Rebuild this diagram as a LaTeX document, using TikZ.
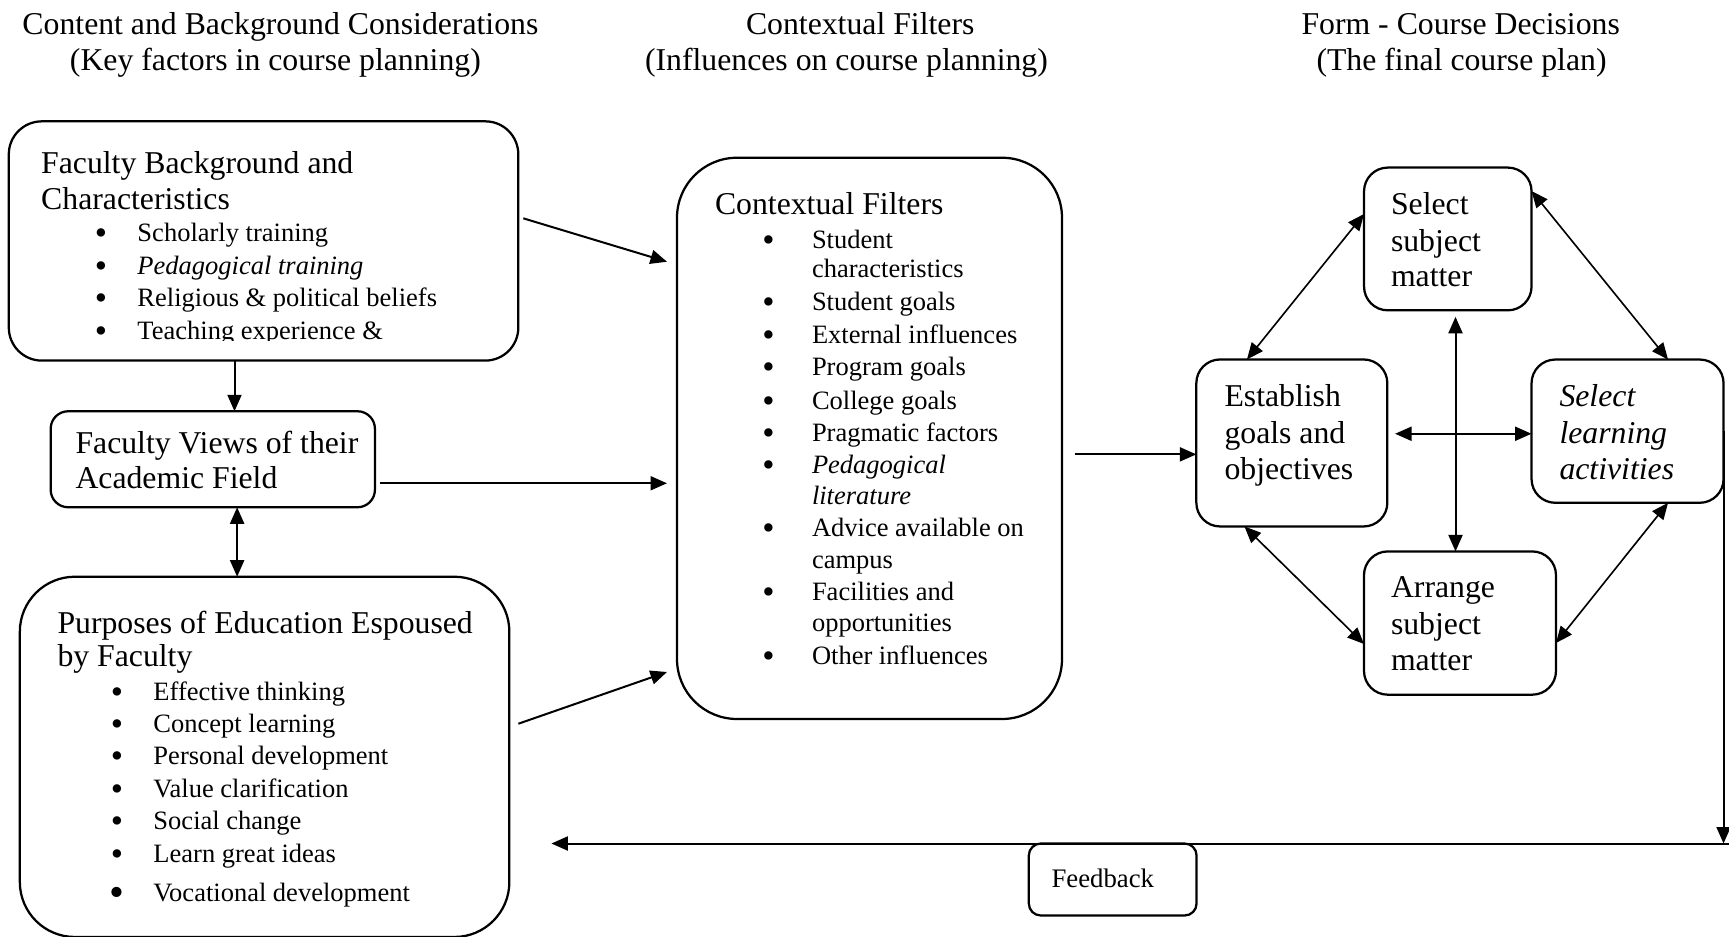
\documentclass[tikz,border=0pt]{standalone}
\usepackage{fontspec}
\setmainfont{Liberation Serif}
\usetikzlibrary{arrows.meta,calc}
\tikzset{
  big/.style={font=\fontsize{12.7}{14.6}\selectfont, inner sep=0pt, anchor=base west},
  sm/.style={font=\fontsize{10.6}{13}\selectfont, inner sep=0pt, anchor=base west},
  bul/.style={font=\fontsize{14}{14}\selectfont, inner sep=0pt, anchor=base, yshift=-1.2pt},
  box/.style={draw, line width=0.9pt, inner sep=0pt, outer sep=0pt},
  tip/.tip={Triangle[length=6.6pt,width=5.6pt]},
  arr/.style={line width=0.8pt, -tip},
  darr/.style={line width=0.8pt, tip-tip},
  tdarr/.style={line width=0.65pt, tip-tip}
}
\newcommand{\myitem}[5]{%
  \node[bul] (#1b) at (#2,#4) {\textbullet};
  \node[sm] (#1) at (#3,#4) {#5};}
\begin{document}
\begin{tikzpicture}[x=0.4pt,y=-0.4pt]
\useasboundingbox (0,0) rectangle (1729,936);

% ---- titles
\node[big] (ta1) at (22,34) {Content and Background Considerations};
\node[big] (ta2) at (69.5,70) {(Key factors in course planning)};
\node[big] (tb1) at (745.5,34) {Contextual Filters};
\node[big] (tb2) at (644.5,70) {(Influences on course planning)};
\node[big] (tc1) at (1301,34) {Form - Course Decisions};
\node[big] (tc2) at (1316,70) {(The final course plan)};

% ---- boxes
\node[box, rounded corners=13.2pt, minimum width=203.8pt, minimum height=95.7pt] (b1) at (263.55,240.95) {};
\node[box, rounded corners=7pt, minimum width=129.7pt, minimum height=38.4pt] (b2) at (212.8,459.25) {};
\node[box, rounded corners=22pt, minimum width=195.8pt, minimum height=144.1pt] (b3) at (264.6,756.85) {};
\node[box, rounded corners=24pt, minimum width=154pt, minimum height=224.5pt] (b4) at (869.5,438.35) {};
\node[box, rounded corners=9.5pt, minimum width=67pt, minimum height=57.1pt] (ssm) at (1447.8,238.95) {};
\node[box, rounded corners=9.5pt, minimum width=76.4pt, minimum height=66.8pt] (ego) at (1291.85,442.95) {};
\node[box, rounded corners=9.5pt, minimum width=76.8pt, minimum height=57.3pt] (sla) at (1627.55,431.15) {};
\node[box, rounded corners=9.5pt, minimum width=76.8pt, minimum height=57.3pt] (asm) at (1460,623.05) {};
\node[box, rounded corners=4.8pt, minimum width=67.1pt, minimum height=28.8pt] (fb) at (1112.7,879.5) {};
\node[inner sep=0pt, anchor=base west, font=\fontsize{10.7}{13}\selectfont] (fbt) at (1051,887) {Feedback};

% ---- box 1 text
\node[big] (h1a) at (40.7,173.5) {Faculty Background and};
\node[big] (h1b) at (40.7,209.5) {Characteristics};
\myitem{i11}{101}{137}{241.5}{Scholarly training}
\myitem{i12}{101}{137}{274}{\textit{Pedagogical training}}
\myitem{i13}{101}{137}{306.5}{Religious \& political beliefs}
\begin{scope}
  \clip (0,300) rectangle (600,340);
  \myitem{i14}{101}{137}{339}{Teaching experience \&}
\end{scope}

% ---- box 2 text
\node[big] (h2a) at (75,453.5) {Faculty Views of their};
\node[big] (h2b) at (75,488) {Academic Field};

% ---- box 3 text
\node[big] (h3a) at (57,633) {Purposes of Education Espoused};
\node[big] (h3b) at (57,666) {by Faculty};
\myitem{i31}{117}{153}{700}{Effective thinking}
\myitem{i32}{117}{153}{732}{Concept learning}
\myitem{i33}{117}{153}{764.5}{Personal development}
\myitem{i34}{117}{153}{797}{Value clarification}
\myitem{i35}{117}{153}{829.5}{Social change}
\myitem{i36}{117}{153}{862}{Learn great ideas}
\node[bul, font=\fontsize{17}{17}\selectfont] (i37b) at (117,903) {\textbullet};
\node[sm] (i37) at (153,901) {Vocational development};

% ---- box 4 text
\node[big] (h4) at (714.5,214.5) {Contextual Filters};
\myitem{i41}{768.5}{811.5}{248}{Student}
\node[sm] (i41c) at (811.5,277.5) {characteristics};
\myitem{i42}{768.5}{811.5}{310.5}{Student goals}
\myitem{i43}{768.5}{811.5}{343.5}{External influences}
\myitem{i44}{768.5}{811.5}{375.5}{Program goals}
\myitem{i45}{768.5}{811.5}{409}{College goals}
\myitem{i46}{768.5}{811.5}{441.5}{Pragmatic factors}
\myitem{i47}{768.5}{811.5}{473.5}{\textit{Pedagogical}}
\node[sm] (i47c) at (811.5,504.5) {\textit{literature}};
\myitem{i48}{768.5}{811.5}{536.5}{Advice available on}
\node[sm] (i48c) at (811.5,568) {campus};
\myitem{i49}{768.5}{811.5}{600}{Facilities and}
\node[sm] (i49c) at (811.5,631) {opportunities};
\myitem{i40}{768.5}{811.5}{664}{Other influences}

% ---- right boxes text
\node[big] (s1) at (1390.5,214.5) {Select};
\node[big] (s2) at (1390.5,251) {subject};
\node[big] (s3) at (1390.5,286) {matter};
\node[big] (e1) at (1224,406) {Establish};
\node[big] (e2) at (1224,443.5) {goals and};
\node[big] (e3) at (1224,479.5) {objectives};
\node[big] (l1) at (1559,406) {\textit{Select}};
\node[big] (l2) at (1559,443.5) {\textit{learning}};
\node[big] (l3) at (1559,479.5) {\textit{activities}};
\node[big] (a1) at (1390.5,597.5) {Arrange};
\node[big] (a2) at (1390.5,634) {subject};
\node[big] (a3) at (1390.5,670) {matter};

% ---- connectors, left part
\draw[arr] ($(b1.north east)+(5,97)$) -- ($(b4.north west)+(-10,104)$);
\draw[arr] ($(b2.east)+(5.5,24)$) coordinate (s2a) -- ($(s2a -| b4.west)+(-10,0)$);
\draw[arr] ($(b3.north east)+(9,147)$) -- ($(b4.south west)+(-10,-47)$);
\draw[arr] ($(b1.south west)!0.443!(b1.south east)$) coordinate (s4) -- (s4 |- b2.north);
\draw[darr] ($(b2.south west)!0.575!(b2.south east)$) coordinate (s5) -- (s5 |- b3.north);
\draw[arr] ($(b4.east)+(13,16)$) coordinate (s6) -- (s6 -| ego.west);

% ---- connectors, right part
\draw[tdarr] ($(ego.north west)!0.265!(ego.north east)$) -- ($(ssm.north west)!0.325!(ssm.south west)$);
\draw[tdarr] ($(ssm.north east)!0.164!(ssm.south east)$) -- ($(sla.north west)!0.711!(sla.north east)$);
\draw[tdarr] ($(sla.south west)!0.711!(sla.south east)$) -- ($(asm.north east)!0.639!(asm.south east)$);
\draw[tdarr] ($(ego.south west)!0.252!(ego.south east)$) -- ($(asm.north west)!0.646!(asm.south west)$);
\draw[darr] ($(ssm.south west)!0.546!(ssm.south east)+(0,6.5)$) coordinate (v1) -- (v1 |- asm.north);
\draw[darr] ($(ego.east)+(7.7,-9.2)$) coordinate (h1) -- (h1 -| sla.west);

% ---- feedback loop
\coordinate (edgeR) at (1729,0);
\coordinate (edgeL) at (551.4,0);
\draw[arr] (sla.east) -- (sla.east |- fb.north);
\draw[arr] (fb.north -| edgeR) -- (fb.north -| edgeL);
\end{tikzpicture}
\end{document}
